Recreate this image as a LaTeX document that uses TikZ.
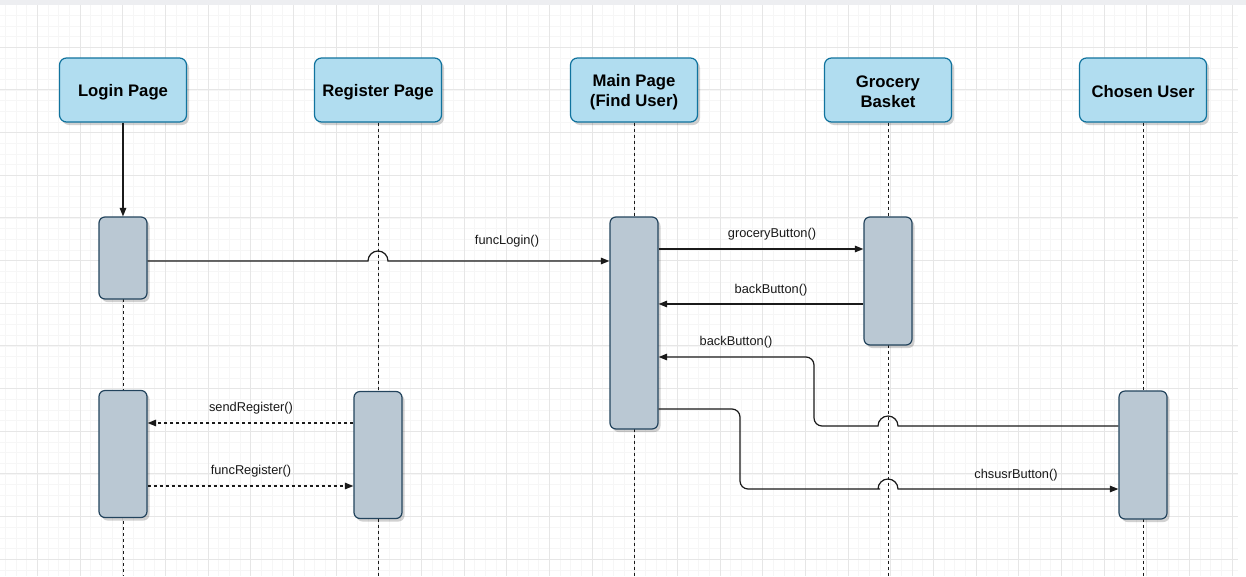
\documentclass[tikz,border=0pt]{standalone}
\usepackage{fontspec}
\setmainfont{Liberation Sans}
\usetikzlibrary{arrows.meta,shadows}
\definecolor{hdrfill}{HTML}{B1DDF0}
\definecolor{hdrdraw}{HTML}{10739E}
\definecolor{actfill}{HTML}{BAC8D3}
\definecolor{actdraw}{HTML}{23445D}
\definecolor{gridminor}{HTML}{F6F6F6}
\definecolor{gridmajor}{HTML}{E6E6E6}
\definecolor{topband}{HTML}{EDEEF1}
\definecolor{lineclr}{HTML}{1A1A1A}
\begin{document}
\begin{tikzpicture}[x=1pt,y=-1pt,
  hdr/.style={draw=hdrdraw, fill=hdrfill, line width=1.2pt, rounded corners=7pt,
    minimum width=127pt, minimum height=64pt, inner sep=0pt, align=center,
    text height=16pt,
    font=\fontsize{16.7}{20}\selectfont\bfseries,
    drop shadow={shadow xshift=2.5pt, shadow yshift=-3pt, opacity=0.18, fill=black}},
  hdrtwo/.style={hdr, text height=36pt},
  act/.style={draw=actdraw, fill=actfill, line width=1.2pt, rounded corners=6pt,
    minimum width=48pt, inner sep=0pt,
    drop shadow={shadow xshift=2.5pt, shadow yshift=-3pt, opacity=0.18, fill=black}},
  life/.style={draw=lineclr, line width=1pt, dash pattern=on 3pt off 3pt},
  msg/.style={draw=lineclr, line width=1.2pt, -{Triangle[length=8.5pt,width=6.5pt]}},
  dmsg/.style={msg, dash pattern=on 3pt off 3pt},
  lbl/.style={font=\fontsize{12.8}{15}\selectfont, inner sep=1pt, text=black!90}]
\useasboundingbox (0,0) rectangle (1246,576);
% background
\fill[white] (0,0) rectangle (1246,576);
\fill[topband] (0,0) rectangle (1246,5);
\begin{scope}
  \clip (0,5) rectangle (1238,576);
  \foreach \i in {0,...,118} {
    \draw[gridminor, line width=0.7pt] ({-5.3+\i*10.667},5) -- ({-5.3+\i*10.667},576);
  }
  \foreach \i in {0,...,55} {
    \draw[gridminor, line width=0.7pt] (0,{4.6+\i*10.667}) -- (1238,{4.6+\i*10.667});
  }
  \foreach \i in {0,...,30} {
    \draw[gridmajor, line width=0.9pt] ({-5.3+\i*42.667},5) -- ({-5.3+\i*42.667},576);
  }
  \foreach \i in {0,...,14} {
    \draw[gridmajor, line width=0.9pt] (0,{4.6+\i*42.667}) -- (1238,{4.6+\i*42.667});
  }
\end{scope}
% end points of lifelines
\coordinate (loginEnd) at (123,576);
\coordinate (registerEnd) at (378,576);
\coordinate (mainEnd) at (634,576);
\coordinate (groceryEnd) at (888,576);
\coordinate (chosenEnd) at (1143,576);
% headers
\node[hdr] (login) at (123,90) {Login Page};
\node[hdr] (register) at (378,90) {Register Page};
\node[hdrtwo] (main) at (634,90) {Main Page\\(Find User)};
\node[hdrtwo] (grocery) at (888,90) {Grocery\\Basket};
\node[hdr] (chosen) at (1143,90) {Chosen User};
% lifelines
\draw[life] (register.south) -- (registerEnd);
\draw[life] (main.south) -- (mainEnd);
\draw[life] (grocery.south) -- (groceryEnd);
\draw[life] (chosen.south) -- (chosenEnd);
\coordinate (loginLifeTop) at (123,299);
\draw[life] (loginLifeTop) -- (loginEnd);
% activations
\node[act, minimum height=82pt] (la1) at (123,258) {};
\node[act, minimum height=127pt] (la2) at (123,454) {};
\node[act, minimum height=127pt] (ra) at (378,455) {};
\node[act, minimum height=212pt] (ma) at (634,323) {};
\node[act, minimum height=128pt] (ga) at (888,281) {};
\node[act, minimum height=128pt] (ca) at (1143,455) {};
% messages
\draw[msg] (login.south) -- (la1.north);
\draw[msg] (la1.east |- 0,261) -- (368,261) arc[start angle=180, end angle=360, radius=10] -- (ma.west |- 0,261);
\draw[msg] (ma.east |- 0,249) -- (ga.west |- 0,249);
\draw[msg] (ga.west |- 0,304) -- (ma.east |- 0,304);
\draw[msg] (ca.west |- 0,426) -- (898,426) arc[start angle=360, end angle=180, radius=10] [rounded corners=8pt] -- (814,426) -- (814,357) -- (ma.east |- 0,357);
\draw[msg, rounded corners=8pt] (ma.east |- 0,409) -- (740,409) -- (740,489) -- (872,489) [sharp corners] -- (878,489) arc[start angle=180, end angle=360, radius=10] -- (ca.west |- 0,489);
\draw[dmsg] (ra.west |- 0,423) -- (la2.east |- 0,423);
\draw[dmsg] (la2.east |- 0,486) -- (ra.west |- 0,486);
% labels
\node[lbl] (lFuncLogin) at (507,241) {funcLogin()};
\node[lbl] (lGrocery) at (772,234) {groceryButton()};
\node[lbl] (lBack1) at (771,290) {backButton()};
\node[lbl] (lBack2) at (736,342) {backButton()};
\node[lbl] (lChsusr) at (1016,475) {chsusrButton()};
\node[lbl] (lSend) at (251,408) {sendRegister()};
\node[lbl] (lFuncReg) at (251,471) {funcRegister()};
\end{tikzpicture}
\end{document}
